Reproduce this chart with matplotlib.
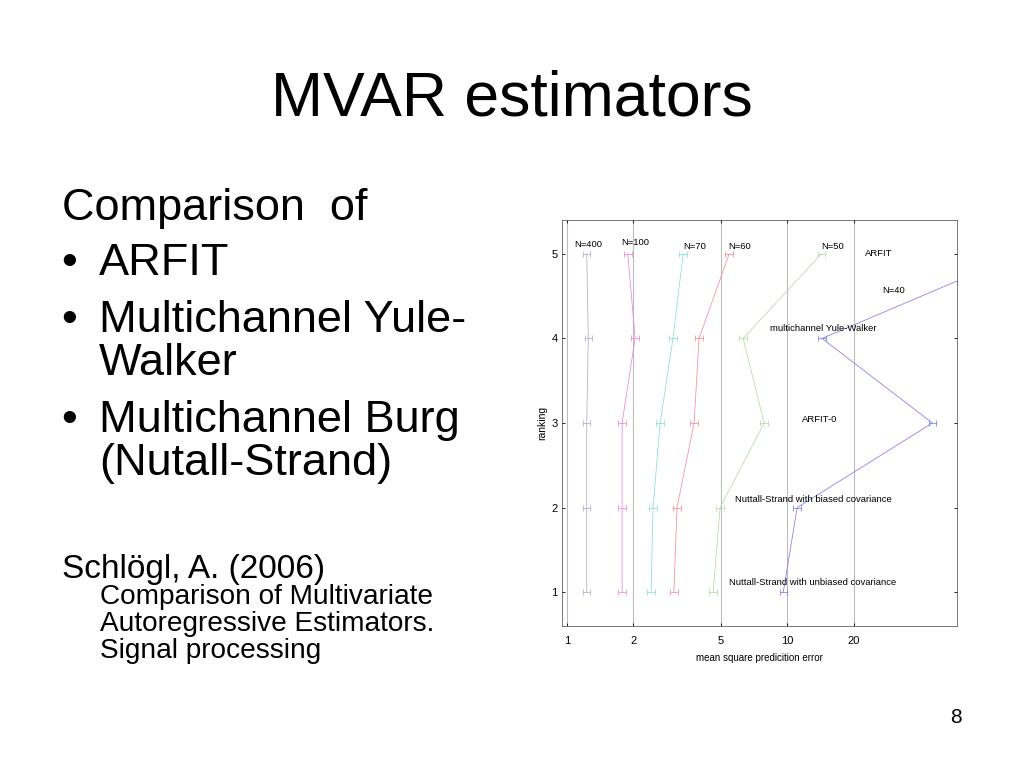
import matplotlib
matplotlib.use('Agg')
import matplotlib.pyplot as plt
import numpy as np

SLIDE_FONT = ['Liberation Sans', 'DejaVu Sans']
CHART_FONT = ['Liberation Sans Narrow', 'Liberation Sans', 'DejaVu Sans']

# ranking positions 1..5 and mean square prediction error per sample size
ranks = [1, 2, 3, 4, 5]
n400 = [1.23, 1.23, 1.23, 1.25, 1.23]
n100 = [1.78, 1.78, 1.78, 2.04, 1.89]
n70 = [2.41, 2.46, 2.65, 3.03, 3.37]
n60 = [3.06, 3.16, 3.78, 3.98, 5.45]
n50 = [4.61, 4.96, 7.86, 6.31, 14.3]
n40 = [9.6, 11.1, 45.6, 14.4, 115.0]

series = [n400, n100, n70, n60, n50, n40]
colors = ['#b4aac4', '#e888d4', '#88e0cc', '#f48c98', '#b8d8aa', '#7c7cec']

# annotation labels (x, y in data coordinates)
labels = ['N=400', 'N=100', 'N=70', 'N=60', 'N=50', 'ARFIT', 'N=40',
          'multichannel Yule-Walker', 'ARFIT-0',
          'Nuttall-Strand with biased covariance',
          'Nuttall-Strand with unbiased covariance']
label_x = [1.25, 2.04, 3.82, 6.11, 16.0, 25.9, 30.3, 14.6, 14.0, 13.1, 13.0]
label_y = [5.11, 5.13, 5.09, 5.09, 5.09, 5.0, 4.57, 4.12, 3.04, 2.10, 1.12]

xticks = [1, 2, 5, 10, 20]

fig = plt.figure(figsize=(10.24, 7.68), dpi=100)
fig.patch.set_facecolor('white')

# slide texts
fig.text(0.5, 1-115/768, 'MVAR estimators', ha='center', va='baseline',
         fontsize=45, family=SLIDE_FONT)
fig.text(62/1024, 1-220/768, 'Comparison  of', fontsize=32.5, family=SLIDE_FONT)
bullets = [('ARFIT', 275), ('Multichannel Yule-', 332), ('Walker', 375),
           ('Multichannel Burg', 432), ('(Nutall-Strand)', 475)]
for txt, yb in bullets:
    if txt not in ('Walker', '(Nutall-Strand)'):
        fig.text(61/1024, 1-yb/768, '\u2022', fontsize=32.5, family=SLIDE_FONT)
    fig.text(99/1024, 1-yb/768, txt, fontsize=32.5, family=SLIDE_FONT)
fig.text(62/1024, 1-578/768, 'Schlögl, A. (2006)', fontsize=24, family=SLIDE_FONT)
refs = [('Comparison of Multivariate', 604), ('Autoregressive Estimators.', 631),
        ('Signal processing', 658)]
for txt, yb in refs:
    fig.text(100/1024, 1-yb/768, txt, fontsize=20.2, family=SLIDE_FONT)
fig.text(962/1024, 1-723/768, '8', fontsize=15, ha='right', family=SLIDE_FONT)

# chart
ax = fig.add_axes([562/1024, 1-626/768, 395/1024, 406/768])
ax.set_xscale('log')
for vals, c in zip(series, colors):
    v = np.array(vals)
    ax.errorbar(v, ranks, xerr=[v - v/1.04, v*0.04], color=c, lw=0.55,
                elinewidth=0.55, capsize=2, capthick=0.55)

for txt, x, y in zip(labels, label_x, label_y):
    ax.text(x, y, txt, ha='center', va='center', fontsize=6.8, family=CHART_FONT)

ax.set_xlim(0.95, 59)
ax.set_ylim(0.6, 5.4)
ax.set_xticks(xticks)
ax.set_xticklabels([str(t) for t in xticks])
ax.minorticks_off()
ax.set_yticks(ranks)
ax.xaxis.grid(True, color='#bcbcbc', lw=0.8)
ax.tick_params(direction='in', top=True, right=True, length=2.5, width=0.6,
               labelsize=8)
ax.tick_params(axis='x', pad=7)
ax.tick_params(axis='y', pad=3)
for lab in ax.get_xticklabels() + ax.get_yticklabels():
    lab.set_family(CHART_FONT)
for s in ax.spines.values():
    s.set_linewidth(0.6)
    s.set_color('#606060')
ax.set_xlabel('mean square predicition error', fontsize=7, family=CHART_FONT,
              labelpad=5)
ax.set_ylabel('ranking', fontsize=7.5, family=CHART_FONT, labelpad=3)

fig.savefig('out.png', dpi=100, facecolor='white')
